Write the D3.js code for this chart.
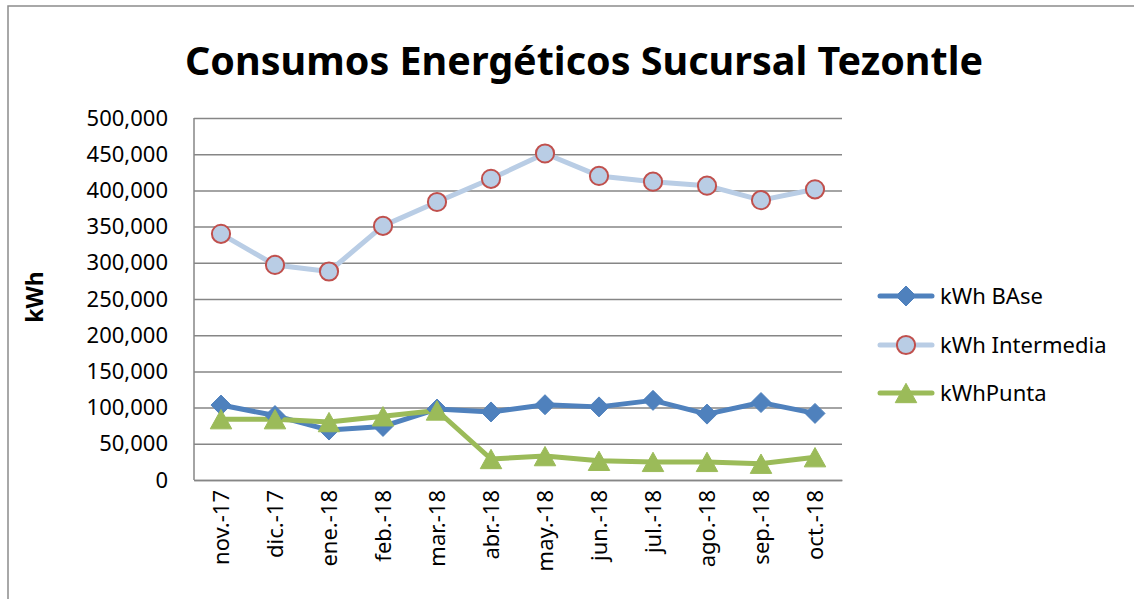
<!DOCTYPE html>
<html>
<head>
<meta charset="utf-8">
<script src="https://cdn.jsdelivr.net/npm/d3@7"></script>
<style>
    html, body { margin: 0; padding: 0; background: #fff; }
    svg { display: block; }
    text { font-family: "Noto Sans", "Open Sans", sans-serif; fill: #000; }
</style>
</head>
<body>
<div id="chart"></div>
<script>
    /**** DATA ****/
    var months = ['nov.-17', 'dic.-17', 'ene.-18', 'feb.-18', 'mar.-18', 'abr.-18',
        'may.-18', 'jun.-18', 'jul.-18', 'ago.-18', 'sep.-18', 'oct.-18'];
    var kwhBase = [103500, 89000, 69000, 74000, 98000, 94000, 104000, 101000, 110000, 91000, 107000, 92000];
    var kwhIntermedia = [340000, 297000, 288000, 351000, 384000, 416000, 451000, 420000, 412000, 406500, 386500, 401500];
    var kwhPunta = [84000, 84000, 80000, 88000, 96000, 29000, 33000, 26500, 25000, 25000, 22500, 31500];
    var yTicks = [0, 50000, 100000, 150000, 200000, 250000, 300000, 350000, 400000, 450000, 500000];
    var seriesNames = ['kWh BAse', 'kWh Intermedia', 'kWhPunta'];

    /**** SIZING ****/
    var width = 1134,
        height = 599;
    var plot = {left: 194, right: 842, top: 118, bottom: 480};
    var gridColor = '#868686';

    // Excel-like marker shapes: square diamond and wide triangle
    var excelDiamond = {
        draw: function(context, size) {
            var r = Math.sqrt(size / 2);
            context.moveTo(0, -r);
            context.lineTo(r, 0);
            context.lineTo(0, r);
            context.lineTo(-r, 0);
            context.closePath();
        }
    };
    var excelTriangle = {
        draw: function(context, size) {
            var w = Math.sqrt(size * 2.2) / 2;
            var h = w * 0.9;
            context.moveTo(0, -h);
            context.lineTo(w, h);
            context.lineTo(-w, h);
            context.closePath();
        }
    };

    var series = [
        {name: seriesNames[0], values: kwhBase, line: '#4F81BD', fill: '#4F81BD', stroke: '#4F81BD', symbol: excelDiamond, size: 200, sw: 1},
        {name: seriesNames[1], values: kwhIntermedia, line: '#B9CDE5', fill: '#B9CDE5', stroke: '#C0504D', symbol: d3.symbolCircle, size: 260, sw: 2},
        {name: seriesNames[2], values: kwhPunta, line: '#9BBB59', fill: '#9BBB59', stroke: '#9BBB59', symbol: excelTriangle, size: 210, sw: 1}
    ];

    var svg = d3.select('#chart').append('svg')
        .attr('width', width)
        .attr('height', height);

    // Outer chart frame (only left and top visible)
    svg.append('rect')
        .attr('x', 8).attr('y', 6)
        .attr('width', width + 20).attr('height', height + 20)
        .attr('fill', '#fff')
        .attr('stroke', '#8c8c8c')
        .attr('stroke-width', 1.5);

    // Scales
    var x = d3.scaleBand().domain(months).range([plot.left, plot.right]);
    var y = d3.scaleLinear().domain([0, 500000]).range([plot.bottom, plot.top]);
    var cx = function(i) { return x(months[i]) + x.bandwidth() / 2; };

    // Gridlines + y axis
    var yAxis = d3.axisLeft(y)
        .tickValues(yTicks)
        .tickSize(-(plot.right - plot.left))
        .tickPadding(26)
        .tickFormat(d3.format(','));
    var gy = svg.append('g')
        .attr('transform', 'translate(' + plot.left + ',0)')
        .call(yAxis);
    gy.select('.domain').remove();
    gy.selectAll('.tick line')
        .attr('stroke', gridColor)
        .attr('stroke-width', 1.5);
    gy.selectAll('.tick text')
        .attr('font-size', 22)
        .attr('fill', '#000')
        .style('font-family', '"Noto Sans", sans-serif');

    // Left axis line
    svg.append('line')
        .attr('x1', plot.left).attr('x2', plot.left)
        .attr('y1', plot.top).attr('y2', plot.bottom)
        .attr('stroke', gridColor).attr('stroke-width', 1.5);

    // X axis
    var xAxis = d3.axisBottom(x).tickSize(0).tickPadding(0);
    var gx = svg.append('g')
        .attr('transform', 'translate(0,' + plot.bottom + ')')
        .call(xAxis);
    gx.select('.domain')
        .attr('stroke', gridColor).attr('stroke-width', 1.5);
    gx.selectAll('.tick text')
        .attr('font-size', 22)
        .attr('fill', '#000')
        .attr('transform', 'translate(0,10) rotate(-90)')
        .attr('text-anchor', 'end')
        .attr('dy', '0.36em')
        .attr('x', 0).attr('y', 0)
        .style('font-family', '"Noto Sans", sans-serif');

    // Lines
    var line = d3.line()
        .x(function(d, i) { return cx(i); })
        .y(function(d) { return y(d); });

    series.forEach(function(s) {
        svg.append('path')
            .datum(s.values)
            .attr('fill', 'none')
            .attr('stroke', s.line)
            .attr('stroke-width', 5)
            .attr('stroke-linejoin', 'round')
            .attr('d', line);
    });

    // Markers
    series.forEach(function(s) {
        svg.append('g').selectAll('path')
            .data(s.values)
            .enter()
            .append('path')
            .attr('d', d3.symbol().type(s.symbol).size(s.size))
            .attr('transform', function(d, i) {
                return 'translate(' + cx(i) + ',' + y(d) + ')';
            })
            .attr('fill', s.fill)
            .attr('stroke', s.stroke)
            .attr('stroke-width', s.sw);
    });

    // Title
    svg.append('text')
        .attr('x', 584).attr('y', 75)
        .attr('text-anchor', 'middle')
        .attr('font-size', 40)
        .attr('font-weight', 'bold')
        .attr('textLength', 798)
        .attr('lengthAdjust', 'spacingAndGlyphs')
        .text('Consumos Energéticos Sucursal Tezontle');

    // Y axis title
    svg.append('text')
        .attr('transform', 'translate(43,297) rotate(-90)')
        .attr('text-anchor', 'middle')
        .attr('font-size', 23)
        .attr('font-weight', 'bold')
        .text('kWh');

    // Legend
    var legendRows = [296, 345, 393];
    var legend = svg.append('g').selectAll('g')
        .data(series)
        .enter()
        .append('g')
        .attr('transform', function(d, i) { return 'translate(880,' + legendRows[i] + ')'; });
    legend.append('line')
        .attr('x1', 0).attr('x2', 52)
        .attr('stroke', function(d) { return d.line; })
        .attr('stroke-width', 5)
        .attr('stroke-linecap', 'round');
    legend.append('path')
        .attr('d', function(d) { return d3.symbol().type(d.symbol).size(d.size)(); })
        .attr('transform', 'translate(26,0)')
        .attr('fill', function(d) { return d.fill; })
        .attr('stroke', function(d) { return d.stroke; })
        .attr('stroke-width', function(d) { return d.sw; });
    legend.append('text')
        .attr('x', 60)
        .attr('dy', '0.36em')
        .attr('font-size', 22)
        .text(function(d) { return d.name; });
</script>
</body>
</html>
